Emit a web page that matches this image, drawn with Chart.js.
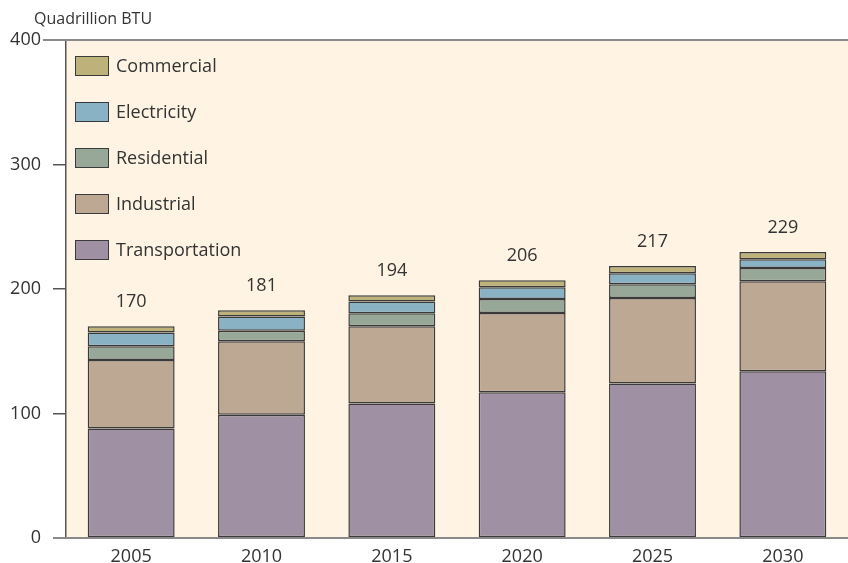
<!DOCTYPE html>
<html>
<head>
<meta charset="utf-8">
<script src="https://cdn.jsdelivr.net/npm/chart.js@4/dist/chart.umd.min.js"></script>
<style>
  html, body { margin: 0; padding: 0; background: #fff; }
  body { width: 848px; height: 563px; position: relative; overflow: hidden; font-family: "Open Sans", "Noto Sans", sans-serif; color: #333; }
  #wrap { position: absolute; left: 0; top: 0; width: 848px; height: 563px; }
  #unit { position: absolute; left: 34px; top: 7px; font-size: 16px; color: #333; }
  #legend { position: absolute; left: 75px; top: 56px; }
  .item { position: relative; height: 20px; margin-bottom: 26px; }
  .swatch { position: absolute; left: 0; top: 0; width: 32px; height: 18px; border: 1.5px solid #3a3a3a; }
  .label { position: absolute; left: 41px; top: -3px; font-size: 18px; line-height: 24px; color: #333; white-space: nowrap; }
</style>
</head>
<body>
<div id="wrap"><canvas id="chart" width="848" height="563"></canvas></div>
<div id="unit">Quadrillion BTU</div>
<div id="legend"></div>
<script>
// categories
const years = ['2005', '2010', '2015', '2020', '2025', '2030'];

// series values (quadrillion BTU)
const transportation = [88, 99, 108, 117, 124, 134];
const industrial = [55, 59, 62, 63.7, 68.8, 72.2];
const residential = [11, 8.5, 10.5, 11.3, 11, 10.7];
const electricity = [11, 11.5, 9.5, 9.4, 8.8, 7];
const commercial = [5, 5, 5, 5.6, 5.9, 5.8];

// totals printed above bars
const totals = ['170', '181', '194', '206', '217', '229'];

// y tick values
const yTicks = [0, 100, 200, 300, 400];

const series = [
  { name: 'Transportation', data: transportation, color: '#9f91a3' },
  { name: 'Industrial', data: industrial, color: '#bda894' },
  { name: 'Residential', data: residential, color: '#97a898' },
  { name: 'Electricity', data: electricity, color: '#89b2c4' },
  { name: 'Commercial', data: commercial, color: '#bdb27a' }
];

// legend, top item first (reverse of stacking order)
const legendEl = document.getElementById('legend');
series.slice().reverse().forEach((s) => {
  const item = document.createElement('div');
  item.className = 'item';
  item.innerHTML = '<div class="swatch" style="background:' + s.color + '"></div><div class="label">' + s.name + '</div>';
  legendEl.appendChild(item);
});

const FONT = '"Open Sans", "Noto Sans", sans-serif';

// cream plot background, extended 0/400 lines, total labels
const decor = {
  id: 'decor',
  beforeDraw(chart) {
    const { ctx, chartArea } = chart;
    ctx.save();
    ctx.fillStyle = '#fff3e3';
    ctx.fillRect(chartArea.left, chartArea.top, chartArea.right - chartArea.left, chartArea.bottom - chartArea.top);
    ctx.restore();
  },
  afterDraw(chart) {
    const { ctx, chartArea, scales } = chart;
    const y = scales.y;
    ctx.save();
    ctx.strokeStyle = '#8a8a8a';
    ctx.lineWidth = 2;
    const y0 = y.getPixelForValue(0);
    ctx.beginPath();
    ctx.moveTo(53, y0);
    ctx.lineTo(chartArea.right, y0);
    ctx.stroke();
    const yMax = y.getPixelForValue(400);
    ctx.beginPath();
    ctx.moveTo(43, yMax);
    ctx.lineTo(chartArea.right, yMax);
    ctx.stroke();

    const topMeta = chart.getDatasetMeta(chart.data.datasets.length - 1);
    ctx.fillStyle = '#333';
    ctx.font = '18px ' + FONT;
    ctx.textAlign = 'center';
    ctx.textBaseline = 'middle';
    topMeta.data.forEach((bar, i) => {
      ctx.fillText(totals[i], bar.x, bar.y - 24);
    });
    ctx.restore();
  }
};

new Chart(document.getElementById('chart'), {
  type: 'bar',
  data: {
    labels: years,
    datasets: series.map((s) => ({
      label: s.name,
      data: s.data,
      backgroundColor: s.color,
      borderColor: '#3a3a3a',
      borderWidth: 1.5,
      borderSkipped: false,
      categoryPercentage: 1,
      barPercentage: 0.667
    }))
  },
  options: {
    responsive: false,
    animation: false,
    layout: { padding: { top: 40, right: 0, bottom: 0, left: 0 } },
    plugins: {
      legend: { display: false },
      tooltip: { enabled: false }
    },
    scales: {
      x: {
        stacked: true,
        grid: { display: false },
        border: { display: false },
        ticks: { color: '#333', font: { family: FONT, size: 18 }, padding: 0 },
        afterFit: (s) => { s.height = 25; }
      },
      y: {
        stacked: true,
        min: 0,
        max: 400,
        afterBuildTicks: (s) => { s.ticks = yTicks.map((v) => ({ value: v })); },
        grid: { drawOnChartArea: false, tickLength: 13, color: '#555', lineWidth: 1.5 },
        border: { display: true, color: '#555', width: 1.5 },
        ticks: { color: '#333', font: { family: FONT, size: 18 }, padding: 12 },
        afterFit: (s) => { s.width = 66; }
      }
    }
  },
  plugins: [decor]
});
</script>
</body>
</html>
